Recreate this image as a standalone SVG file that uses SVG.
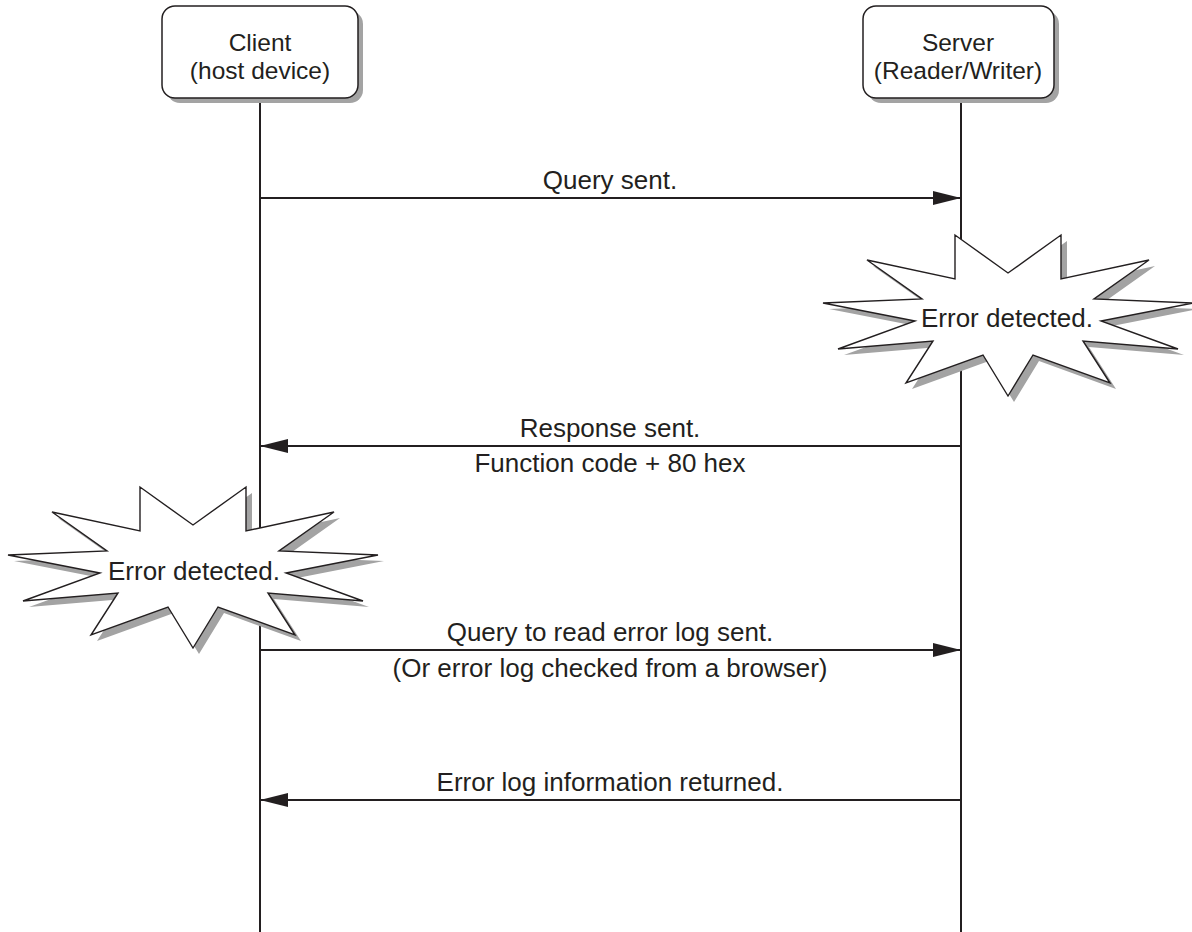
<svg xmlns="http://www.w3.org/2000/svg" width="1192" height="932" viewBox="0 0 1192 932">
<defs>
<style>
text{font-family:"Liberation Sans",Arial,sans-serif;font-size:26px;fill:#231f20;text-anchor:middle}
.lbl{font-size:24.5px}
.box{fill:#fff;stroke:#231f20;stroke-width:1.5}
.shadow{fill:#a3a3a3;stroke:none}
.life{stroke:#231f20;stroke-width:2;fill:none}
.msg{stroke:#231f20;stroke-width:2;fill:none}
.star{fill:#fff;stroke:#231f20;stroke-width:1.4;stroke-linejoin:miter}
</style>
<marker id="ah" viewBox="0 0 28 14" refX="28" refY="7" markerWidth="28" markerHeight="14" markerUnits="userSpaceOnUse" orient="auto">
<path d="M0,0 L28,7 L0,14 Z" fill="#231f20"/>
</marker>
<polygon id="burst" points="-141,-55 -53,-36 -53,-80 0,-42 53,-80 53,-36 141,-55 86,-16 185,-12 93,6 170,34 75,26 102,68 25,40 0,81 -25,40 -102,68 -75,26 -170,34 -93,6 -185,-12 -86,-16"/>
</defs>
<rect width="1192" height="932" fill="#fff"/>
<g id="lifelines">
<line class="life" x1="260" y1="98" x2="260" y2="932"/>
<line class="life" x1="961" y1="98" x2="961" y2="932"/>
</g>
<g id="client">
<rect class="shadow" x="167" y="11" width="196" height="92" rx="13"/>
<rect class="box" x="162" y="6" width="196" height="92" rx="13"/>
<text class="lbl" x="260" y="51">Client</text>
<text class="lbl" x="260" y="79">(host device)</text>
</g>
<g id="server">
<rect class="shadow" x="868" y="11" width="191" height="92" rx="13"/>
<rect class="box" x="863" y="6" width="191" height="92" rx="13"/>
<text class="lbl" x="958" y="51">Server</text>
<text class="lbl" x="958" y="79">(Reader/Writer)</text>
</g>
<g id="connectors">
<line class="msg" x1="260" y1="198" x2="961" y2="198" marker-end="url(#ah)"/>
<text x="610" y="189">Query sent.</text>
<line class="msg" x1="961" y1="446" x2="260" y2="446" marker-end="url(#ah)"/>
<text x="610" y="437">Response sent.</text>
<text x="610" y="472">Function code + 80 hex</text>
<line class="msg" x1="260" y1="650" x2="961" y2="650" marker-end="url(#ah)"/>
<text x="610" y="641">Query to read error log sent.</text>
<text x="610" y="677">(Or error log checked from a browser)</text>
<line class="msg" x1="961" y1="800" x2="260" y2="800" marker-end="url(#ah)"/>
<text x="610" y="791">Error log information returned.</text>
</g>
<g id="server-error">
<use href="#burst" class="shadow" transform="translate(1014,321)"/>
<use href="#burst" class="star" transform="translate(1008,315)"/>
<text x="1007" y="327">Error detected.</text>
</g>
<g id="client-error">
<use href="#burst" class="shadow" transform="translate(199,573)"/>
<use href="#burst" class="star" transform="translate(193,567)"/>
<text x="194" y="580">Error detected.</text>
</g>
</svg>
